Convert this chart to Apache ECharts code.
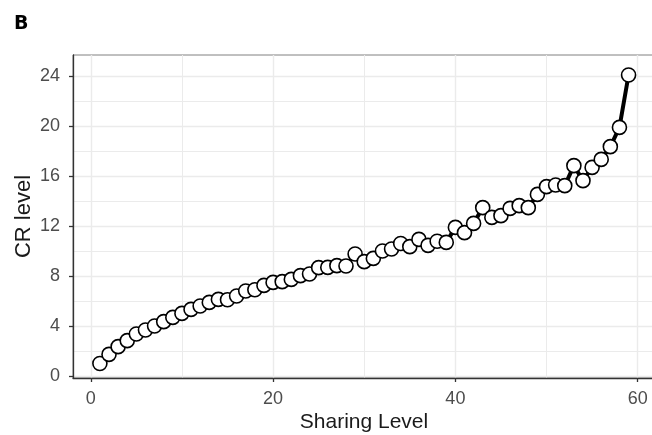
<!DOCTYPE html>
<html><head><meta charset="utf-8">
<script src="https://cdn.jsdelivr.net/npm/echarts@6/dist/echarts.min.js"></script>
<style>html,body{margin:0;padding:0;background:#fff}#c{width:652px;height:435px}</style>
</head><body><div id="c"></div>
<script>
const sharingLevel = [1,2,3,4,5,6,7,8,9,10,11,12,13,14,15,16,17,18,19,20,21,22,23,24,25,26,27,28,29,30,31,32,33,34,35,36,37,38,39,40,41,42,43,44,45,46,47,48,49,50,51,52,53,54,55,56,57,58,59];
const crLevel = [1.0,1.73,2.35,2.83,3.36,3.68,4.0,4.35,4.69,5.01,
  5.33,5.6,5.89,6.13,6.1,6.4,6.8,6.9,7.25,7.49,
  7.55,7.73,8.03,8.16,8.67,8.69,8.83,8.8,9.76,9.15,
  9.41,10.0,10.16,10.6,10.35,10.93,10.45,10.78,10.69,11.89,
  11.47,12.21,13.47,12.69,12.83,13.41,13.63,13.47,14.53,15.15,
  15.28,15.23,16.83,15.63,16.69,17.33,18.35,19.89,24.08];
const xTicks = [0,20,40,60];
const xMinor = [10,30,50];
const yTicks = [0,4,8,12,16,20,24];
const yMinor = [2,6,10,14,18,22];

const FONT = '"Liberation Sans", Arial, sans-serif';
const chart = echarts.init(document.getElementById('c'), null, {renderer:'canvas'});
const xMin = -1.95, xMax = 61.9, yMin = -0.16, yMax = 25.68;
chart.setOption({
  animation:false,
  backgroundColor:'#ffffff',
  title:{text:'B', left:9, top:10, textStyle:{fontSize:19, fontWeight:'bold', color:'#000', fontFamily:'"DejaVu Sans", sans-serif'}},
  grid:{left:73, top:55, width:582, height:323, show:true, borderColor:'#808080', borderWidth:1, backgroundColor:'transparent', containLabel:false, outerBoundsMode:'none'},
  xAxis:[
    {type:'value', min:xMin, max:xMax, position:'bottom',
     name:'Sharing Level', nameLocation:'middle', nameGap:34, nameMoveOverlap:false,
     nameTextStyle:{fontSize:21, color:'#1a1a1a', fontFamily:FONT},
     axisLine:{show:true, onZero:false, lineStyle:{color:'#333', width:1.3}},
     axisTick:{show:true, customValues:xTicks, length:4, lineStyle:{color:'#333', width:1.3}},
     axisLabel:{customValues:xTicks, color:'#4d4d4d', fontSize:18, margin:12, fontFamily:FONT},
     splitLine:{show:true, lineStyle:{color:'#ebebeb', width:1.4}}},
    {type:'value', min:xMin, max:xMax, position:'bottom',
     axisLine:{show:false}, axisTick:{show:false, customValues:xMinor},
     axisLabel:{show:false, customValues:xMinor},
     splitLine:{show:true, lineStyle:{color:'#ebebeb', width:1}}}
  ],
  yAxis:[
    {type:'value', min:yMin, max:yMax, position:'left',
     name:'CR level', nameLocation:'middle', nameGap:38, nameMoveOverlap:false,
     nameTextStyle:{fontSize:22, color:'#1a1a1a', fontFamily:FONT},
     axisLine:{show:true, onZero:false, lineStyle:{color:'#333', width:1.3}},
     axisTick:{show:true, customValues:yTicks, length:4, lineStyle:{color:'#333', width:1.3}},
     axisLabel:{customValues:yTicks, color:'#4d4d4d', fontSize:18, margin:13, fontFamily:FONT},
     splitLine:{show:true, lineStyle:{color:'#ebebeb', width:1.4}}},
    {type:'value', min:yMin, max:yMax, position:'left',
     axisLine:{show:false}, axisTick:{show:false, customValues:yMinor},
     axisLabel:{show:false, customValues:yMinor},
     splitLine:{show:true, lineStyle:{color:'#ebebeb', width:1}}}
  ],
  series:[{
    type:'line', xAxisIndex:0, yAxisIndex:0,
    data: sharingLevel.map((x,i)=>[x, crLevel[i]]),
    symbol:'circle', symbolSize:14,
    itemStyle:{color:'#ffffff', borderColor:'#000000', borderWidth:1.6},
    lineStyle:{color:'#000000', width:4},
    z:5
  }]
});
</script></body></html>
